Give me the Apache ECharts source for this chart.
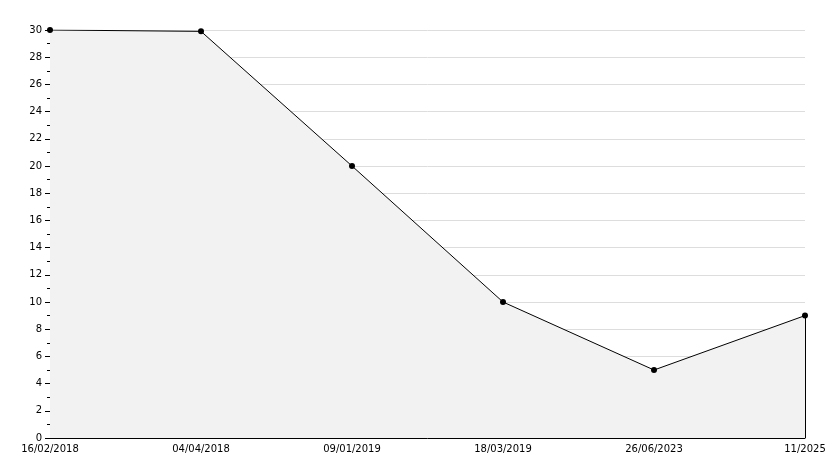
<!DOCTYPE html>
<html><head><meta charset="utf-8">
<script src="https://cdn.jsdelivr.net/npm/echarts@6/dist/echarts.min.js"></script>
<style>html,body{margin:0;padding:0;background:#fff}#c{width:834px;height:468px}</style>
</head><body><div id="c"></div>
<script>
const categories = ['16/02/2018','04/04/2018','09/01/2019','18/03/2019','26/06/2023','11/2025'];
const values = [30, 29.9, 20, 10, 5, 9];
const yMin = 0, yMax = 30, yInterval = 2;

const chart = echarts.init(document.getElementById('c'), null, {renderer:'canvas'});
const last = categories.length - 1;
chart.setOption({
  animation: false,
  backgroundColor: '#ffffff',
  grid: {left: 50, right: 29, top: 30, bottom: 30, containLabel: false},
  xAxis: {
    type: 'category', data: categories, boundaryGap: false,
    axisLine: {lineStyle: {color: '#000', width: 1}},
    axisTick: {inside: true, length: 5, lineStyle: {color: '#000'}},
    axisLabel: {color: '#000', fontFamily: 'DejaVu Sans', fontSize: 10, margin: 6, showMaxLabel: true, showMinLabel: true, interval: 0},
    splitLine: {show: false}
  },
  yAxis: {
    type: 'value', min: yMin, max: yMax, interval: yInterval,
    axisLine: {show: true, lineStyle: {color: '#000', width: 1}},
    axisTick: {show: true, length: 5, lineStyle: {color: '#000'}},
    minorTick: {show: true, splitNumber: 2, length: 3, lineStyle: {color: '#000'}},
    axisLabel: {color: '#000', fontFamily: 'DejaVu Sans', fontSize: 10, margin: 8},
    splitLine: {show: true, lineStyle: {color: '#dddddd', width: 1}}
  },
  series: [{
    type: 'line', data: values,
    symbol: 'circle', symbolSize: 6,
    itemStyle: {color: '#000'},
    lineStyle: {color: '#000', width: 1},
    areaStyle: {color: '#f2f2f2', opacity: 1},
    markLine: {
      silent: true, symbol: 'none', label: {show: false},
      lineStyle: {color: '#000', width: 1, type: 'solid'},
      data: [[{coord: [last, values[last]]}, {coord: [last, yMin]}]]
    }
  }]
});
</script></body></html>
